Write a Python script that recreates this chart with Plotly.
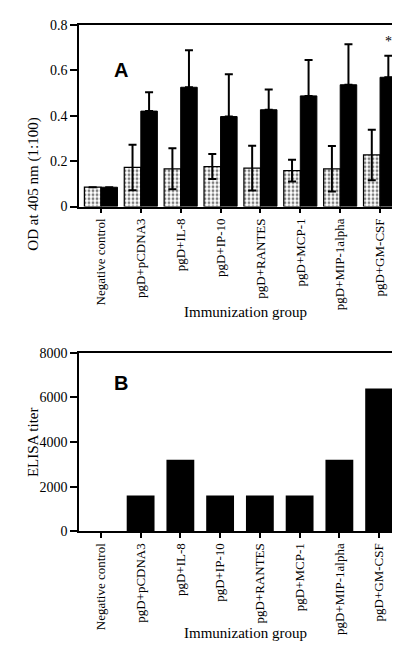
import plotly.graph_objects as go

groups = ["Negative control", "pgD+pCDNA3", "pgD+IL-8", "pgD+IP-10",
          "pgD+RANTES", "pgD+MCP-1", "pgD+MIP-1alpha", "pgD+GM-CSF"]
od_light = [0.085, 0.172, 0.166, 0.176, 0.169, 0.158, 0.166, 0.227]
od_light_err = [None, 0.10, 0.09, 0.055, 0.098, 0.048, 0.10, 0.111]
od_dark = [0.085, 0.42, 0.525, 0.396, 0.426, 0.487, 0.536, 0.569]
od_dark_err = [None, 0.083, 0.163, 0.186, 0.089, 0.158, 0.178, 0.095]
titer = [0, 1600, 3200, 1600, 1600, 1600, 3200, 6400]
od_ticks = [0, 0.2, 0.4, 0.6, 0.8]
od_ticktext = ["0", "0.2", "0.4", "0.6", "0.8"]
titer_ticks = [0, 2000, 4000, 6000, 8000]
titer_ticktext = ["0", "2000", "4000", "6000", "8000"]

SERIF = "Liberation Serif, Times New Roman, serif"
SANS = "Liberation Sans, Arial, sans-serif"
xs = list(range(len(groups)))

fig = go.Figure()
fig.add_trace(go.Bar(
    x=xs, y=od_light, xaxis="x", yaxis="y", offsetgroup="a",
    marker=dict(color="white", line=dict(color="black", width=1.2),
                pattern=dict(shape=".", fgcolor="black", bgcolor="white", size=4, solidity=0.4)),
    error_y=dict(type="data", array=od_light_err, symmetric=True, color="black", thickness=2, width=4),
    showlegend=False))
fig.add_trace(go.Bar(
    x=xs, y=od_dark, xaxis="x", yaxis="y", offsetgroup="b",
    marker=dict(color="black", line=dict(color="black", width=1)),
    error_y=dict(type="data", array=od_dark_err, arrayminus=[0]*len(xs), symmetric=False,
                 color="black", thickness=2, width=4),
    showlegend=False))
fig.add_trace(go.Bar(
    x=xs, y=titer, xaxis="x2", yaxis="y2",
    marker=dict(color="black", line=dict(color="black", width=0)),
    width=0.7, showlegend=False))

xtickfont = dict(family=SERIF, size=13, color="black")
ytickfont = dict(family=SERIF, size=14, color="black")
common_x = dict(tickmode="array", tickvals=xs, ticktext=groups, tickangle=-90,
                ticks="outside", ticklen=5, tickwidth=1.5, tickcolor="black",
                showline=True, linecolor="black", linewidth=1.5, mirror=True,
                showgrid=False, zeroline=False, tickfont=xtickfont)
common_y = dict(ticks="outside", ticklen=7, tickwidth=1.5, tickcolor="black",
                showline=True, linecolor="black", linewidth=1.5, mirror=True,
                showgrid=False, zeroline=False, tickfont=ytickfont, tickmode="array")

fig.update_layout(
    width=400, height=659, margin=dict(l=0, r=0, t=0, b=0),
    paper_bgcolor="white", plot_bgcolor="white",
    barmode="group", bargap=0.17, bargroupgap=0,
    xaxis=dict(domain=[0.1775, 0.98], range=[-0.55, 7.5], anchor="y", **common_x),
    yaxis=dict(domain=[0.7026, 0.9848], range=[0, 0.8], anchor="x",
               tickvals=od_ticks, ticktext=od_ticktext, **common_y),
    xaxis2=dict(domain=[0.1775, 0.9775], range=[-0.55, 7.5], anchor="y2", **common_x),
    yaxis2=dict(domain=[0.1983, 0.4757], range=[0, 8000], anchor="x2",
                tickvals=titer_ticks, ticktext=titer_ticktext, **common_y),
    annotations=[
        dict(text="<b>A</b>", x=104/400, y=1-43/659, xref="paper", yref="paper",
             showarrow=False, font=dict(family=SANS, size=20, color="black")),
        dict(text="<b>B</b>", x=104/400, y=1-377/659, xref="paper", yref="paper",
             showarrow=False, font=dict(family=SANS, size=20, color="black")),
        dict(text="*", x=7 + 0.2, y=od_dark[7] + od_dark_err[7], xref="x", yref="y",
             yanchor="middle", yshift=14, showarrow=False,
             font=dict(family=SERIF, size=14, color="#000000")),
        dict(text="OD at 405 nm (1:100)", x=15/400, y=1-103/659, xref="paper", yref="paper",
             textangle=-90, showarrow=False, font=dict(family=SERIF, size=15, color="black")),
        dict(text="ELISA titer", x=15/400, y=1-437/659, xref="paper", yref="paper",
             textangle=-90, showarrow=False, font=dict(family=SERIF, size=15, color="black")),
        dict(text="Immunization group", x=237/400, y=1-304/659, xref="paper", yref="paper",
             showarrow=False, font=dict(family=SERIF, size=15, color="black")),
        dict(text="Immunization group", x=237/400, y=1-643/659, xref="paper", yref="paper",
             showarrow=False, font=dict(family=SERIF, size=15, color="black")),
    ],
)

fig.write_html("out.html")
